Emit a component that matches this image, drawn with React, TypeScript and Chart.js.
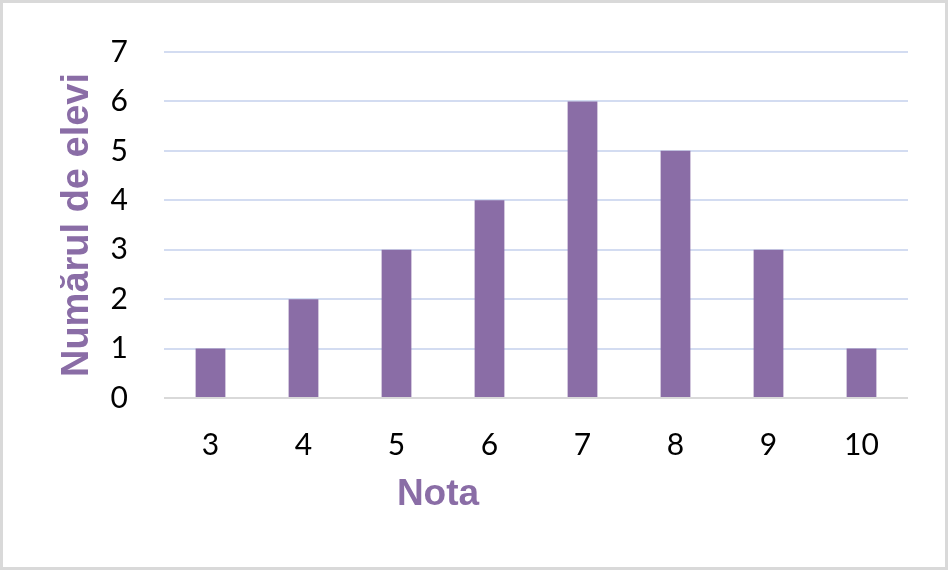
import React, { useEffect, useRef } from "react";
import { Chart, registerables } from "chart.js";

Chart.register(...registerables);

const categories = ["3", "4", "5", "6", "7", "8", "9", "10"];
const studentCounts = [1, 2, 3, 4, 6, 5, 3, 1];
const xTitle = "Nota";
const yTitle = "Numărul de elevi";

const TICK_FONT = "Lato, 'Open Sans', sans-serif";
const TITLE_FONT = "'Liberation Sans', Arial, sans-serif";
const PURPLE = "#8A6DA6";

// Draws the x-axis title, offset left of the plot centre as in the reference
const xTitlePlugin = {
  id: "xTitleOffset",
  afterDraw(chart: any) {
    const { ctx, chartArea } = chart;
    ctx.save();
    ctx.font = `bold 37px ${TITLE_FONT}`;
    ctx.fillStyle = PURPLE;
    ctx.textAlign = "center";
    ctx.textBaseline = "middle";
    const cx = (chartArea.left + chartArea.right) / 2 - 98;
    const cy = chartArea.bottom + 97;
    ctx.fillText(xTitle, cx, cy);
    ctx.restore();
  },
};

export default function App() {
  const ref = useRef<HTMLCanvasElement | null>(null);

  useEffect(() => {
    const chart = new Chart(ref.current as HTMLCanvasElement, {
      type: "bar",
      data: {
        labels: categories,
        datasets: [
          {
            data: studentCounts,
            backgroundColor: PURPLE,
            borderWidth: 0,
            categoryPercentage: 1,
            barPercentage: 0.32,
          },
        ],
      },
      plugins: [xTitlePlugin],
      options: {
        animation: false,
        responsive: false,
        maintainAspectRatio: false,
        layout: { padding: { left: 0, right: 37, top: 49, bottom: 0 } },
        plugins: { legend: { display: false }, tooltip: { enabled: false } },
        scales: {
          x: {
            afterFit: (s: any) => {
              s.height = 169;
            },
            grid: { display: false },
            border: { display: false },
            ticks: { color: "#000", font: { family: TICK_FONT, size: 30 }, padding: 21 },
            title: { display: false },
          },
          y: {
            min: 0,
            max: 7,
            afterFit: (s: any) => {
              s.width = 161;
              s.paddingTop = 0;
              s.paddingBottom = 0;
            },
            border: { display: false },
            grid: {
              drawTicks: false,
              lineWidth: 2,
              color: (c: any) => (c.tick && c.tick.value === 0 ? "#D9D9D9" : "#D3DCF1"),
            },
            ticks: {
              stepSize: 1,
              color: "#000",
              padding: 36,
              font: { family: TICK_FONT, size: 30 },
            },
            title: {
              display: true,
              text: yTitle,
              color: PURPLE,
              font: { family: TITLE_FONT, size: 38, weight: "bold" },
              padding: { top: 52, bottom: 0 },
            },
          },
        },
      },
    });
    return () => chart.destroy();
  }, []);

  return (
    <div
      style={{
        position: "absolute",
        left: 0,
        top: 0,
        width: 948,
        height: 570,
        boxSizing: "border-box",
        border: "3px solid #D9D9D9",
        background: "#fff",
      }}
    >
      <canvas ref={ref} width={942} height={564} style={{ display: "block" }} />
    </div>
  );
}
